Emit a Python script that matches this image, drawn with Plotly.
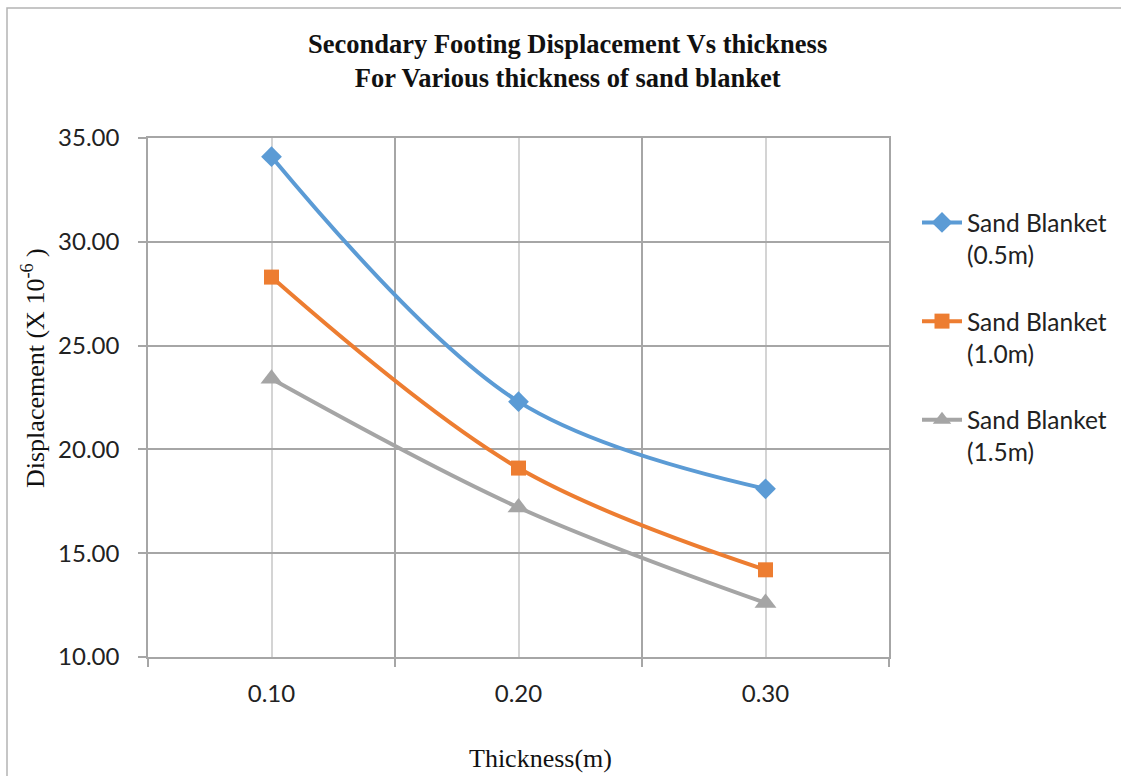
import plotly.graph_objects as go

# Data: footing displacement (x 10^-6) against thickness for three sand blanket depths
thickness = [0.10, 0.20, 0.30]
tick_labels = ["0.10", "0.20", "0.30"]
blanket_05 = [34.1, 22.3, 18.1]
blanket_10 = [28.3, 19.1, 14.2]
blanket_15 = [23.4, 17.2, 12.6]
series_names = ["Sand Blanket<br>(0.5m)", "Sand Blanket<br>(1.0m)", "Sand Blanket<br>(1.5m)"]

W, H = 1121, 776
L, R, T, B = 148, 232, 138, 119
PW, PH = W - L - R, H - T - B


def px_x(x):
    return (x - L) / PW


def px_y(y):
    return (H - B - y) / PH


SANS = "Lato, 'Open Sans', sans-serif"
SERIF = "'Liberation Serif', 'Times New Roman', serif"
GRID_DARK = "#a6a6a6"
GRID_LIGHT = "#d4d4d4"

colors = ["#5B9BD5", "#ED7D31", "#A5A5A5"]
symbols = ["diamond", "square", "triangle-up"]
sizes = [16, 15, 19]

fig = go.Figure()
for i, (vals, name) in enumerate(zip([blanket_05, blanket_10, blanket_15], series_names)):
    fig.add_trace(go.Scatter(
        x=thickness, y=vals, name=name, mode="lines+markers",
        line=dict(color=colors[i], width=4, shape="spline", smoothing=1.0),
        marker=dict(symbol=symbols[i], size=sizes[i], color=colors[i]),
        legendgroup=f"g{i}",
    ))

step = thickness[1] - thickness[0]
minor_vals = [thickness[0] - step / 2] + [t + step / 2 for t in thickness]

fig.update_layout(
    width=W, height=H,
    margin=dict(l=L, r=R, t=T, b=B, autoexpand=False),
    paper_bgcolor="white", plot_bgcolor="white",
    showlegend=True,
    legend=dict(
        x=px_x(917), y=px_y(200), xanchor="left", yanchor="top",
        font=dict(family=SANS, size=24.5, color="#222"),
        tracegroupgap=32, valign="top", bgcolor="rgba(0,0,0,0)",
        itemwidth=40,
    ),
    font=dict(family=SANS, color="#222"),
)

fig.update_xaxes(
    range=[minor_vals[0], minor_vals[-1]],
    tickmode="array", tickvals=thickness, ticktext=tick_labels,
    ticks="", ticklen=8, ticklabelstandoff=14,
    tickfont=dict(family=SANS, size=24, color="#222"),
    showgrid=True, gridcolor=GRID_LIGHT, gridwidth=1.5,
    showline=True, linecolor=GRID_DARK, linewidth=1.5, mirror=True,
    zeroline=False,
    minor=dict(tickmode="array", tickvals=minor_vals, ticks="outside", ticklen=8,
               tickcolor=GRID_DARK, tickwidth=1.5,
               showgrid=True, gridcolor=GRID_DARK, gridwidth=1.5),
)
fig.update_yaxes(
    range=[10, 35], dtick=5, tick0=10, tickformat=".2f",
    ticks="outside", ticklen=8, tickcolor=GRID_DARK, tickwidth=1.5,
    ticklabelstandoff=14,
    tickfont=dict(family=SANS, size=24, color="#222"),
    showgrid=True, gridcolor=GRID_DARK, gridwidth=1.5,
    showline=True, linecolor=GRID_DARK, linewidth=1.5, mirror=True,
    zeroline=False,
)

# Chart title, axis titles
fig.add_annotation(
    text="Secondary Footing Displacement Vs thickness<br>For Various thickness of sand blanket",
    xref="paper", yref="paper", x=px_x(567), y=px_y(61), xanchor="center", yanchor="middle",
    showarrow=False, font=dict(family=SERIF, size=26.5, color="#111", weight="bold"),
)
fig.add_annotation(
    text="Thickness(m)", xref="paper", yref="paper", x=px_x(540), y=px_y(758),
    xanchor="center", yanchor="middle", showarrow=False,
    font=dict(family=SERIF, size=26, color="#111"),
)
fig.add_annotation(
    text="Displacement (X 10<sup>-6</sup> )", xref="paper", yref="paper",
    x=px_x(33), y=px_y(368), xanchor="center", yanchor="middle", textangle=-90,
    showarrow=False, font=dict(family=SERIF, size=26, color="#111"),
)

# Outer chart border
fig.add_shape(type="rect", xref="paper", yref="paper",
              x0=px_x(7), x1=px_x(W + 20), y0=px_y(H + 20), y1=px_y(8),
              line=dict(color="#b4b4b4", width=1.5), fillcolor="rgba(0,0,0,0)", layer="below")

fig.write_html("out.html")
